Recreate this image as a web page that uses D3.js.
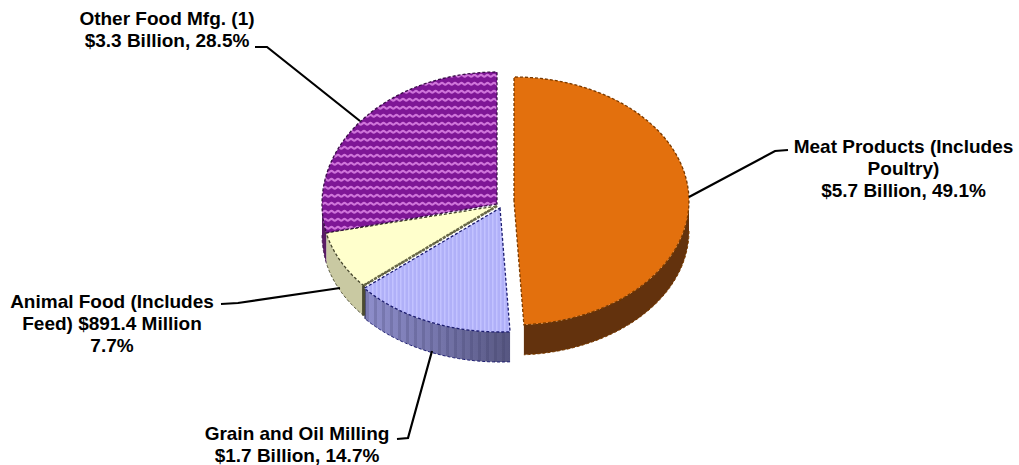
<!DOCTYPE html>
<html><head><meta charset="utf-8">
<script src="https://cdn.jsdelivr.net/npm/d3@7/dist/d3.min.js"></script>
<style>html,body{margin:0;background:#fff}svg{display:block}text{font-family:"Liberation Sans",Arial,sans-serif;font-weight:bold;font-size:19px;fill:#000}</style>
</head><body><svg id="c" width="1019" height="465"></svg>
<script>
const categories=["Meat Products (Includes Poultry)","Grain and Oil Milling","Animal Food (Includes Feed)","Other Food Mfg. (1)"];
const shares=[49.1,14.7,7.7,28.5];
const labelLines=[["Meat Products (Includes","Poultry)","$5.7 Billion, 49.1%"],["Grain and Oil Milling","$1.7 Billion, 14.7%"],["Animal Food (Includes","Feed) $891.4 Million","7.7%"],["Other Food Mfg. (1)","$3.3 Billion, 28.5%"]];
const faceColors=["#e36f0a","url(#dots)","#ffffcc","url(#wave)"];
const sideColors=["#643108","url(#bside)","#c9c9a2","#5a1a66"];
const edgeColors=["#7a3a00","#1c1c70","#45452a","#3a0f48"];
// layout of each exploded slice
const geom=[{cx:514,cy:201,rx:175,ry:124},{cx:500,cy:208,rx:178,ry:124},{cx:497,cy:206,rx:175,ry:123},{cx:497,cy:204,rx:175,ry:132}];
const labelPos=[{x:903.5,y:152.5},{x:297,y:439.5},{x:112,y:307.5},{x:167,y:25}];
const leaders=[[[689,197],[775,151],[788,150]],[[432,351],[408,438],[397,439]],[[340,288],[238,303],[221,304]],[[360,121],[267,47],[255,47]]];
const depth=30;

const svg=d3.select("#c");
const defs=svg.append("defs");
defs.append("filter").attr("id","soft").append("feGaussianBlur").attr("stdDeviation",0.45);
const wave=defs.append("pattern").attr("id","wave").attr("patternUnits","userSpaceOnUse").attr("width",13).attr("height",8);
wave.append("rect").attr("width",13).attr("height",8).attr("fill","#7e1696");
wave.append("path").attr("d",d3.line().curve(d3.curveBasis)([[-3.25,6.5],[0,1],[3.25,6.5],[6.5,1],[9.75,6.5],[13,1],[16.25,6.5]])).attr("fill","none").attr("stroke","#cf74da").attr("stroke-width",2.2);
const dots=defs.append("pattern").attr("id","dots").attr("patternUnits","userSpaceOnUse").attr("width",4).attr("height",4);
dots.append("rect").attr("width",4).attr("height",4).attr("fill","#b0b0f8");
dots.append("rect").attr("width",1.5).attr("height",4).attr("fill","#c2c2ff");
const g=defs.append("linearGradient").attr("id","bgrad").attr("gradientUnits","userSpaceOnUse").attr("x1",0).attr("x2",146).attr("y1",0).attr("y2",0);
g.append("stop").attr("offset",0).attr("stop-color","#8e8ecb");
g.append("stop").attr("offset",0.5).attr("stop-color","#7575ab");
g.append("stop").attr("offset",1).attr("stop-color","#565680");
const bs=defs.append("pattern").attr("id","bside").attr("patternUnits","userSpaceOnUse").attr("width",146).attr("height",400).attr("x",366);
bs.append("rect").attr("width",146).attr("height",400).attr("fill","url(#bgrad)");
d3.range(0,146,8).forEach(x=>bs.append("rect").attr("x",x).attr("width",3).attr("height",400).attr("fill","#30305c").attr("opacity",.2));

const pie=d3.pie().sort(null).value(d=>d)(shares);
const line=d3.line();
const pt=(i,a,dy=0)=>{const m=geom[i];return [m.cx+m.rx*Math.sin(a),m.cy-m.ry*Math.cos(a)+dy];};
const samples=(a0,a1)=>d3.range(0,61).map(k=>a0+(a1-a0)*k/60);

const slices=pie.map((p,i)=>({p,i}));
const pieG=svg.append("g").attr("filter","url(#soft)");
// side walls, visible only on the lower half of each ellipse
const sides=pieG.append("g");
slices.forEach(({p,i})=>{
  const a0=Math.max(p.startAngle,Math.PI/2), a1=Math.min(p.endAngle,3*Math.PI/2);
  if(a1<=a0) return;
  const as=samples(a0,a1);
  const poly=as.map(a=>pt(i,a)).concat(as.slice().reverse().map(a=>pt(i,a,depth)));
  sides.append("path").attr("d",line(poly)+"Z").attr("fill",sideColors[i]);
  sides.append("path").attr("d",line(as.map(a=>pt(i,a,depth)))).attr("fill","none").attr("stroke",edgeColors[i]).attr("stroke-width",1).attr("stroke-dasharray","3 2");
});
// cut wall between the yellow and blue slices
const cut=pt(2,pie[2].startAngle);
sides.append("path").attr("d",line([cut,[cut[0],cut[1]+depth]])).attr("stroke","#4c4c30").attr("stroke-width",3).attr("fill","none");
// top faces
const faces=pieG.append("g");
slices.forEach(({p,i})=>{
  const m=geom[i];
  const poly=[[m.cx,m.cy]].concat(samples(p.startAngle,p.endAngle).map(a=>pt(i,a)));
  faces.append("path").attr("d",line(poly)+"Z").attr("fill",faceColors[i]);
  faces.append("path").attr("d",line(poly)+"Z").attr("fill","none").attr("stroke",edgeColors[i]).attr("stroke-width",1.3).attr("stroke-dasharray","3 2");
});
// seam between yellow and blue
faces.append("path").attr("d",line([[geom[2].cx,geom[2].cy],cut])).attr("stroke","#6a6a48").attr("stroke-width",2.6).attr("stroke-dasharray","3 1").attr("fill","none");
// leaders
svg.append("g").selectAll("path").data(leaders).join("path").attr("d",d=>line(d)).attr("fill","none").attr("stroke","#000").attr("stroke-width",2.2);
// labels
labelLines.forEach((ls,i)=>{
  const t=svg.append("text").attr("text-anchor","middle").attr("aria-label",categories[i]);
  ls.forEach((s,k)=>t.append("tspan").attr("x",labelPos[i].x).attr("y",labelPos[i].y+k*22).text(s));
});
</script></body></html>
